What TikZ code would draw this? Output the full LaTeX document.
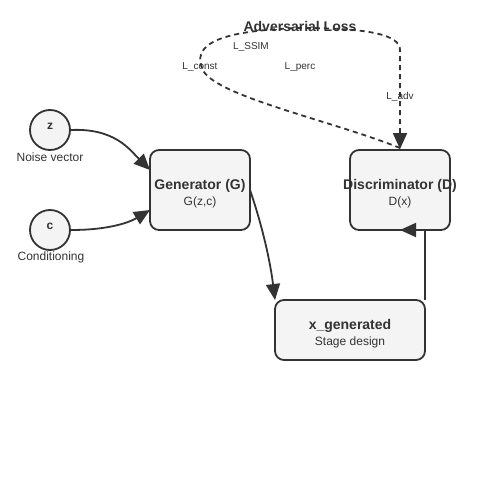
\documentclass[tikz,border=0pt]{standalone}
\usepackage{fontspec}
\setmainfont{Liberation Sans}
\usetikzlibrary{arrows.meta}
\definecolor{ink}{HTML}{333333}
\definecolor{boxfill}{HTML}{F4F4F4}
\begin{document}
\begin{tikzpicture}[x=1pt,y=-1pt,
  every node/.style={text=ink},
  circ/.style={circle,draw=ink,fill=boxfill,line width=1.8pt,minimum size=40pt,inner sep=0pt},
  blockbox/.style={rectangle,rounded corners=9pt,draw=ink,fill=boxfill,line width=1.8pt,inner sep=0pt},
  conn/.style={draw=ink,line width=1.8pt,-{Triangle[length=16pt,width=14pt]}},
  dconn/.style={conn,dash pattern=on 5pt off 4pt},
  big/.style={font=\bfseries\fontsize{14}{16}\selectfont},
  mid/.style={font=\fontsize{12}{14}\selectfont},
  small/.style={font=\fontsize{10}{12}\selectfont}]
\useasboundingbox (0,0) rectangle (500,500);
\node[circ] (z) at (50,130) {};
\node[font=\bfseries\fontsize{12}{14}\selectfont] (zl) at (50,126) {z};
\node[mid] (zn) at (50,157) {Noise vector};
\node[circ] (c) at (50,230) {};
\node[font=\bfseries\fontsize{12}{14}\selectfont] (cl) at (50,226) {c};
\node[mid] (cn) at (51,257) {Conditioning};
\node[blockbox,minimum width=100pt,minimum height=80pt] (G) at (200,190) {};
\node[big] (Gt) at (200,186) {Generator (G)};
\node[mid] (Gs) at (200,202) {G(z,c)};
\node[blockbox,minimum width=100pt,minimum height=80pt] (D) at (400,190) {};
\node[big] (Dt) at (400,186) {Discriminator (D)};
\node[mid] (Ds) at (400,202) {D(x)};
\node[blockbox,minimum width=150pt,minimum height=60pt] (X) at (350,330) {};
\node[big] (Xt) at (350,326) {x\_generated};
\node[mid] (Xs) at (350,342) {Stage design};
\coordinate (Xtop) at (425,300);
\coordinate (Dbot) at (400,230);
\draw[conn] (z.east) .. controls (115,128) and (130,150) .. (150,170);
\draw[conn] (c.east) .. controls (110,230) and (130,222) .. (150,210);
\draw[conn] (250,190) .. controls (262,225) and (270,260) .. (275,300);
\draw[conn] (Xtop) -- (425,230) -- (Dbot);
\draw[dconn] (400,148) .. controls (330,120) and (210,95) .. (202,68)
  .. controls (190,38) and (240,30) .. (300,28)
  .. controls (370,28) and (400,35) .. (400,50) -- (D.north);
\node[big] (adv) at (300,26) {Adversarial Loss};
\node[small] (ssim) at (251,47) {L\_SSIM};
\node[small] (const) at (200,67) {L\_const};
\node[small] (perc) at (300,67) {L\_perc};
\node[small] (ladv) at (400,97) {L\_adv};
\end{tikzpicture}
\end{document}
